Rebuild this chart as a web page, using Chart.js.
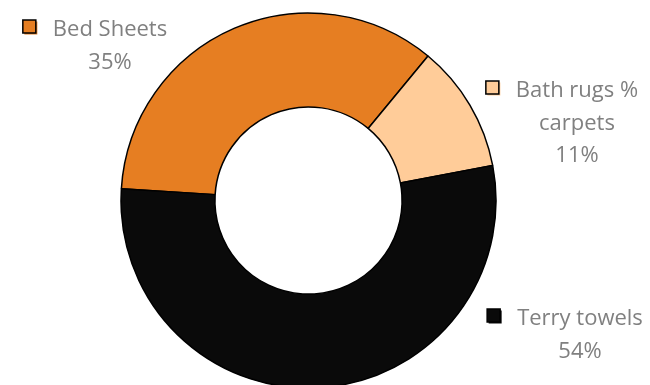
<!DOCTYPE html>
<html>
<head>
<meta charset="utf-8">
<script src="https://cdn.jsdelivr.net/npm/chart.js@4.4.0/dist/chart.umd.min.js"></script>
<style>
  html, body { margin: 0; padding: 0; background: #fff; overflow: hidden; }
  #wrap { width: 650px; height: 420px; position: relative; }
</style>
</head>
<body>
<div id="wrap"><canvas id="productChart"></canvas></div>
<script>
// share of sales by product group
const categories = ["Bed Sheets", "Bath rugs % carpets", "Terry towels"];
const shares = [35, 11, 54];
const sliceColors = ["#E67E22", "#FFCC99", "#0A0A0A"];

// where each label block sits (center x, first baseline y)
const labelSpots = [
  { x: 110, y: 36 },
  { x: 577, y: 97 },
  { x: 580, y: 325 },
];

const FONT = '22px "Open Sans", sans-serif';
const LINE_H = 32.5;

function wrapText(ctx, text, maxWidth) {
  const words = text.split(" ");
  const lines = [];
  let cur = "";
  words.forEach((w) => {
    const test = cur ? cur + " " + w : w;
    if (cur && ctx.measureText(test).width > maxWidth) {
      lines.push(cur);
      cur = w;
    } else {
      cur = test;
    }
  });
  if (cur) lines.push(cur);
  return lines;
}

const sliceLabels = {
  id: "sliceLabels",
  afterDraw(chart) {
    const ctx = chart.ctx;
    const total = shares.reduce((a, b) => a + b, 0);
    ctx.save();
    ctx.font = FONT;
    ctx.textBaseline = "alphabetic";
    ctx.textAlign = "center";
    categories.forEach((name, i) => {
      const spot = labelSpots[i];
      const lines = wrapText(ctx, name, 140);
      lines.push(Math.round((shares[i] / total) * 100) + "%");
      ctx.fillStyle = "#808080";
      lines.forEach((ln, j) => {
        ctx.fillText(ln, spot.x, spot.y + j * LINE_H);
      });
      // legend key in front of the first line
      const w0 = ctx.measureText(lines[0]).width;
      const kx = spot.x - w0 / 2 - 30;
      const ky = spot.y - 16;
      ctx.fillStyle = sliceColors[i];
      ctx.fillRect(kx + 1.5, ky + 1.5, 13, 13);
      ctx.fillRect(kx, ky, 13, 13);
      ctx.lineWidth = 1.5;
      ctx.strokeStyle = "#000";
      ctx.strokeRect(kx, ky, 13, 13);
    });
    ctx.restore();
  },
};

const ctx = document.getElementById("productChart").getContext("2d");
const chart = new Chart(ctx, {
  type: "doughnut",
  data: {
    labels: categories,
    datasets: [
      {
        data: shares,
        backgroundColor: sliceColors,
        borderColor: "#000",
        borderWidth: 1.5,
      },
    ],
  },
  options: {
    responsive: true,
    maintainAspectRatio: false,
    animation: false,
    rotation: -86.4,
    radius: 187.5,
    cutout: "49.9%",
    layout: { padding: { top: 0, bottom: 19, left: 0, right: 33 } },
    plugins: {
      legend: { display: false },
      tooltip: { enabled: false },
    },
  },
  plugins: [sliceLabels],
});
</script>
</body>
</html>
